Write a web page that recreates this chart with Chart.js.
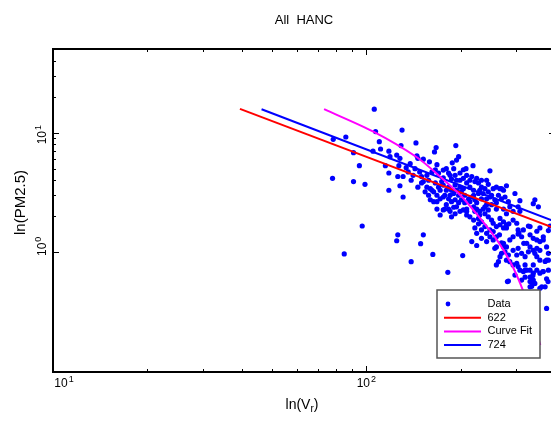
<!DOCTYPE html>
<html>
<head>
<meta charset="utf-8">
<script src="https://cdn.jsdelivr.net/npm/chart.js@4.4.1/dist/chart.umd.min.js"></script>
<style>
  html, body { margin: 0; padding: 0; overflow: hidden; background: #fff; }
  canvas { display: block; }
</style>
</head>
<body>
<canvas id="chartHanc" width="560" height="422"></canvas>
<script>
// measured points (Vr, PM2.5)
const dataPts = [
  [106,15.7],[107,10.2],[130,10.5],[144,8.2],[110,8.4],[129,7.8],[193,7.8],[167,7.5],[165,6.9],[78.4,8.8],
  [86,9.2],[91,6.8],[105,7.0],[111,7.3],[118,7.0],[125,6.5],[128,6.1],[119,6.3],[145,6.4],[146,6.1],
  [152,6.0],[159,5.7],[168,5.4],[197,6.3],[194,5.9],[188,5.6],[180,5.0],[190,5.0],[199,4.6],[204,4.9],
  [208,5.0],[219,5.3],[248,4.8],[225,4.15],[222,3.9],[217,4.3],[242,4.0],[245,3.7],[267,3.4],[280,3.6],
  [95,5.3],[115,5.3],[118,4.6],[127,5.3],[126,4.3],[131,4.3],[134,5.1],[138,5.5],[139,4.0],[150,4.3],
  [156,4.4],[162,4.7],[166,4.9],[170,4.6],[176,4.2],[183,4.6],[187,4.1],[194,4.0],[199,4.0],[204,4.15],
  [209,3.8],[214,3.5],[220,3.3],[230,3.3],[239,3.4],[78,4.15],[91,3.9],[99,3.7],[118,3.3],[128,3.6],
  [131,2.9],[150,3.8],[158,3.0],[160,3.4],[164,3.2],[168,3.0],[172,3.3],[176,3.65],[180,3.3],[185,3.0],
  [190,3.1],[194,3.3],[199,3.5],[204,3.4],[206,3.0],[212,2.8],[217,2.9],[222,2.75],[225,2.6],[233,2.8],
  [242,2.8],[248,2.9],[257,2.75],[264,3.0],[270,2.8],[298,3.1],[309,2.7],[341,2.55],[345,2.75],[354,2.4],
  [294,2.2],[280,2.1],[274,2.3],[260,2.6],[251,2.5],[242,2.5],[236,2.3],[230,2.2],[225,2.3],[220,2.4],
  [209,2.3],[204,2.26],[199,2.2],[194,2.4],[190,2.38],[183,2.3],[176,2.26],[180,2.5],[172,2.05],[178,2.3],
  [209,2.05],[214,1.98],[220,1.86],[228,1.92],[233,1.8],[239,2.1],[245,1.98],[251,1.86],[254,1.75],[260,1.64],
  [267,1.7],[274,1.6],[285,1.73],[305,1.54],[305,1.42],[329,1.66],[333,1.64],[341,1.31],[350,1.27],[358,1.23],
  [381,1.52],[242,1.44],[228,1.73],[222,1.6],[225,1.44],[233,1.31],[248,1.35],[254,1.27],[266,1.4],[270,1.2],
  [274,1.19],[280,1.11],[287,1.27],[294,1.35],[313,1.35],[325,1.19],[333,1.11],[341,1.04],[313,0.98],[321,0.92],
  [329,1.01],[350,0.92],[372,0.84],[381,0.86],[267,0.92],[270,0.98],[277,1.01],[280,0.86],[287,0.835],[264,0.835],
  [294,0.785],[302,0.81],[309,0.71],[317,0.69],[325,0.71],[333,0.71],[341,0.67],[358,0.67],[367,0.69],[333,0.62],
  [341,0.586],[363,0.515],[372,0.515],[333,0.515],[313,0.586],[284,0.575],[298,0.645],[260,0.785],[217,1.23],[225,1.14],
  [203,0.94],[182,0.68],[163,0.96],[149,1.18],[152,1.4],[139,0.835],[126,1.4],[125,1.25],[97,1.66],[85,0.97],
  [376,0.34],[386,1.66],[367,1.27],[376,0.86],[380,0.57],[321,0.71],[366,0.69],[340,0.64],[340,0.55],[280,1.7],
  [307,1.45],[318,1.19],[350,1.08],[270,3.4],[333,0.57],[337,0.52],[358,0.5],[282,0.57],
  [158,4.0],[162,3.3],[166,3.8],[170,3.5],[174,3.9],[178,3.0],[183,3.5],[187,3.3],[192,3.65],[197,3.0],
  [201,3.2],[183,2.8],[187,2.65],[192,2.75],[197,2.6],[201,2.75],[206,2.6],[214,2.65],[220,3.0],[228,3.1],
  [233,3.5],[228,3.8],[236,3.1],[245,3.2],[251,3.0],[254,3.4],[260,2.3],[245,2.26],[239,2.4],[230,2.05],
  [222,2.2],[209,2.2],[192,2.1],[185,2.2],[187,1.98],[168,2.3],[164,2.65],[160,2.75],[168,2.65],[172,2.8],
  [176,2.9],[154,3.2],[156,3.5],[152,3.9],[146,3.5],[141,4.4],[136,4.7],[143,5.0],[148,4.7],[176,4.87],
  [185,4.4],[192,4.4],[209,4.4],[214,4.0],[233,4.0],[260,3.5],[274,3.3],[277,2.9],[284,2.65],[287,2.4],
  [305,2.4],[309,2.2],[294,1.86],[267,1.92],[274,1.8],[280,1.6],[302,1.75],[317,1.54],[333,1.4],[350,1.5],
  [358,1.6],[367,1.35],[345,0.98],[358,0.86],[302,0.95],[305,1.08],[294,1.04],[284,0.95],[274,1.11],[260,1.11],
  [257,1.08],[242,1.23],[233,1.54],[239,1.64],[248,1.54],[254,1.49],[260,1.35],[305,0.76],[321,0.785],[341,0.785],
  [350,0.71],[321,0.62],[345,0.55],[376,0.6],[381,0.71],[376,1.11],[381,0.98],[358,1.04]
];

// fitted lines
const fit622X = [39.5, 400];
const fit622Y = [15.8, 1.59];
const fit724X = [46.3, 400];
const fit724Y = [15.7, 1.81];
const curveX = [73.3, 105.3, 144.9, 172, 199.3, 230.9, 261, 287.8, 309.7, 333, 359];
const curveY = [15.7, 10.19, 6.23, 4.29, 3.01, 1.92, 1.27, 0.835, 0.551, 0.33, 0.168];

// axis ticks
const xTicks = [10, 20, 30, 40, 50, 60, 70, 80, 90, 100, 200, 300];
const xMajor = [10, 100];
const yTicks = [1, 2, 3, 4, 5, 6, 7, 8, 9, 10, 20, 30, 40];
const yMajor = [1, 10];

const FONT = "'Liberation Sans', Arial, sans-serif";

function zip(xs, ys) {
  return xs.map((x, i) => ({ x: x, y: ys[i] }));
}

// draws "10" with a raised exponent, centred on (0,0)
function drawPow(ctx, exp, size) {
  ctx.font = size + 'px ' + FONT;
  const w1 = ctx.measureText('10').width;
  ctx.font = Math.round(size * 0.72) + 'px ' + FONT;
  const w2 = ctx.measureText(exp).width;
  const start = -(w1 + w2 + 1) / 2;
  ctx.textAlign = 'left';
  ctx.textBaseline = 'middle';
  ctx.font = size + 'px ' + FONT;
  ctx.fillText('10', start, 0);
  ctx.font = Math.round(size * 0.72) + 'px ' + FONT;
  ctx.fillText(exp, start + w1 + 1, -size * 0.35);
}

const hancFrame = {
  id: 'hancFrame',
  afterDatasetsDraw(chart) {
    const { ctx, chartArea: a, scales: { x, y } } = chart;
    ctx.save();
    ctx.strokeStyle = '#000';
    ctx.lineWidth = 1;
    ctx.beginPath();
    xTicks.forEach(v => {
      const px = Math.round(x.getPixelForValue(v)) + 0.5;
      const len = xMajor.includes(v) ? 6 : 3;
      ctx.moveTo(px, a.bottom); ctx.lineTo(px, a.bottom - len);
      ctx.moveTo(px, a.top); ctx.lineTo(px, a.top + len);
    });
    yTicks.forEach(v => {
      const py = Math.round(y.getPixelForValue(v)) + 0.5;
      const len = yMajor.includes(v) ? 6 : 3;
      ctx.moveTo(a.left, py); ctx.lineTo(a.left + len, py);
      ctx.moveTo(a.right, py); ctx.lineTo(a.right - len, py);
    });
    ctx.stroke();
    ctx.lineWidth = 2;
    ctx.strokeRect(a.left, a.top, a.right - a.left, a.bottom - a.top);

    // legend box
    const lx = a.right - 118, ly = a.bottom - 82, lw = 103, lh = 68;
    ctx.fillStyle = '#fff';
    ctx.fillRect(lx, ly, lw, lh);
    ctx.strokeStyle = '#555';
    ctx.lineWidth = 1.5;
    ctx.strokeRect(lx, ly, lw, lh);
    chart.data.datasets.forEach((ds, i) => {
      const cy = ly + 14 + i * 13.7;
      if (ds.showLine) {
        ctx.strokeStyle = ds.borderColor;
        ctx.lineWidth = 2;
        ctx.beginPath();
        ctx.moveTo(lx + 7, cy); ctx.lineTo(lx + 44, cy);
        ctx.stroke();
      } else {
        ctx.fillStyle = ds.backgroundColor;
        ctx.beginPath();
        ctx.arc(lx + 11, cy, 2.4, 0, Math.PI * 2);
        ctx.fill();
      }
      ctx.fillStyle = '#000';
      ctx.font = '11px ' + FONT;
      ctx.textAlign = 'left';
      ctx.textBaseline = 'middle';
      ctx.fillText(ds.label, lx + 50.5, cy);
    });
    ctx.restore();
  },
  afterDraw(chart) {
    const { ctx, chartArea: a, scales: { x, y } } = chart;
    ctx.save();
    ctx.fillStyle = '#000';
    xMajor.forEach((v, i) => {
      ctx.save();
      // the first label sits a little right of its tick, as in the original plot
      ctx.translate(x.getPixelForValue(v) + (i === 0 ? 11 : 0), a.bottom + 12);
      drawPow(ctx, String(Math.round(Math.log10(v))), 12);
      ctx.restore();
    });
    yMajor.forEach((v, i) => {
      ctx.save();
      ctx.translate(43, y.getPixelForValue(v) + (i === 0 ? -6 : 2));
      ctx.rotate(-Math.PI / 2);
      drawPow(ctx, String(Math.round(Math.log10(v))), 12);
      ctx.restore();
    });
    // y title
    ctx.save();
    ctx.translate(21, (a.top + a.bottom) / 2 - 8);
    ctx.rotate(-Math.PI / 2);
    ctx.font = '15px ' + FONT;
    ctx.textAlign = 'center';
    ctx.textBaseline = 'middle';
    ctx.fillText('ln(PM2.5)', 0, 0);
    ctx.restore();
    // x title with subscript r
    ctx.font = '14px ' + FONT;
    const p1 = 'ln(V', p3 = ')';
    const w1 = ctx.measureText(p1).width, w3 = ctx.measureText(p3).width;
    ctx.font = '10px ' + FONT;
    const w2 = ctx.measureText('r').width;
    const sx = (a.left + a.right) / 2 - 2 - (w1 + w2 + w3) / 2;
    const by = a.bottom + 33;
    ctx.textAlign = 'left';
    ctx.textBaseline = 'middle';
    ctx.font = '14px ' + FONT;
    ctx.fillText(p1, sx, by);
    ctx.font = '10px ' + FONT;
    ctx.fillText('r', sx + w1, by + 4);
    ctx.font = '14px ' + FONT;
    ctx.fillText(p3, sx + w1 + w2, by);
    ctx.restore();
  }
};

new Chart(document.getElementById('chartHanc').getContext('2d'), {
  type: 'scatter',
  data: {
    datasets: [{
      label: 'Data',
      data: dataPts.map(p => ({ x: p[0], y: p[1] })),
      backgroundColor: '#0000ff',
      pointRadius: 2.6,
      pointBorderWidth: 0,
      order: 4
    }, {
      label: '622',
      data: zip(fit622X, fit622Y),
      showLine: true,
      borderColor: '#ff0000',
      borderWidth: 2,
      pointRadius: 0,
      order: 2
    }, {
      label: 'Curve Fit',
      data: zip(curveX, curveY),
      showLine: true,
      borderColor: '#ff00ff',
      borderWidth: 2,
      pointRadius: 0,
      tension: 0.3,
      order: 1
    }, {
      label: '724',
      data: zip(fit724X, fit724Y),
      showLine: true,
      borderColor: '#0000ff',
      borderWidth: 2,
      pointRadius: 0,
      order: 3
    }]
  },
  options: {
    responsive: false,
    animation: false,
    layout: { padding: { left: 53, right: 5, top: 0, bottom: 50 } },
    scales: {
      x: { type: 'logarithmic', min: 10, max: 400, display: false },
      y: { type: 'logarithmic', min: 0.1, max: 50, display: false }
    },
    plugins: {
      legend: { display: false },
      tooltip: { enabled: false },
      title: {
        display: true,
        text: 'All  HANC',
        color: '#000',
        font: { family: FONT, size: 13, weight: 'normal', lineHeight: 1.2 },
        padding: { top: 13, bottom: 20.4 }
      }
    }
  },
  plugins: [hancFrame]
});
</script>
</body>
</html>
